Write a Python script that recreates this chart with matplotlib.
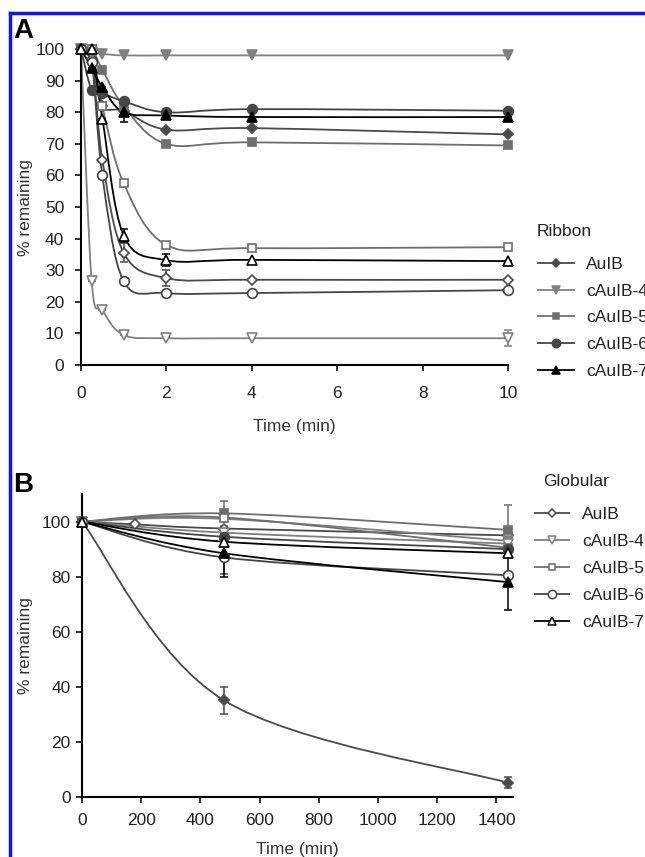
import numpy as np
import matplotlib.pyplot as plt
from matplotlib.path import Path
from matplotlib.patches import PathPatch
from matplotlib.lines import Line2D

plt.rcParams['font.family'] = ['Liberation Sans', 'DejaVu Sans']

names = ['AuIB', 'cAuIB-4', 'cAuIB-5', 'cAuIB-6', 'cAuIB-7']
markers = ['D', 'v', 's', 'o', '^']
msizes = [5, 7, 6, 7, 7]
colors = ['#4a4a4a', '#808080', '#6e6e6e', '#454545', '#000000']

# panel A - time in minutes
tA = [0, 0.25, 0.5, 1, 2, 4, 10]
ribA = {
    'AuIB':    [100, 96, 82, 80.5, 74.5, 75, 73],
    'cAuIB-4': [100, 99, 98.5, 98, 98, 98, 98],
    'cAuIB-5': [100, 100, 93.5, 82, 70, 70.5, 69.5],
    'cAuIB-6': [100, 87, 86, 83.5, 80, 81, 80.5],
    'cAuIB-7': [100, 94, 88, 80, 79, 78.5, 78.5],
}
ribA_err = {'cAuIB-7': [0, 0, 0, 3, 0, 0, 0]}
gloA = {
    'AuIB':    [100, 97, 65, 35.5, 27.5, 27, 27],
    'cAuIB-4': [100, 26.5, 17.5, 9.5, 8.5, 8.5, 8.5],
    'cAuIB-5': [100, 100, 82, 57.5, 38, 37, 37.3],
    'cAuIB-6': [100, 96, 60, 26.5, 22.8, 22.8, 23.7],
    'cAuIB-7': [100, 100, 78, 41, 33.2, 33.3, 32.9],
}
gloA_err = {'AuIB': [0, 0, 0, 3, 2.5, 0, 0],
            'cAuIB-4': [0, 0, 0, 0, 0, 0, 2.5],
            'cAuIB-7': [0, 0, 0, 2, 2, 0, 0]}

# panel B - time in minutes
tB = [0, 480, 1440]
tB_auib = [0, 180, 480, 1440]
ribB = {
    'AuIB':    [100, 35, 5],
    'cAuIB-4': [100, 101, 93],
    'cAuIB-5': [100, 103, 97],
    'cAuIB-6': [100, 94.5, 90],
    'cAuIB-7': [100, 88.5, 78],
}
ribB_err = {'AuIB': [0, 5, 2], 'cAuIB-5': [0, 4.5, 9], 'cAuIB-7': [0, 8.5, 10]}
gloB = {
    'AuIB':    [100, 99, 97.5, 95],
    'cAuIB-4': [100, 96, 92],
    'cAuIB-5': [100, 101.5, 90.5],
    'cAuIB-6': [100, 87, 80.5],
    'cAuIB-7': [100, 92.7, 88.5],
}
gloB_err = {'cAuIB-6': [0, 6, 0], 'cAuIB-4': [0, 0, 4]}

FS = 12.5


def smooth(ax, x, y, color, lw=1.3):
    # excel-like smoothed line: bezier through the data points
    p = np.column_stack([x, y]).astype(float)
    n = len(p)
    verts = [p[0]]
    codes = [Path.MOVETO]
    for i in range(n - 1):
        a = p[i - 1] if i > 0 else p[i]
        d = p[i + 2] if i + 2 < n else p[i + 1]
        c1 = p[i] + (p[i + 1] - a) / 6
        c2 = p[i + 1] - (d - p[i]) / 6
        verts += [c1, c2, p[i + 1]]
        codes += [Path.CURVE4] * 3
    ax.add_patch(PathPatch(Path(verts, codes), fill=False, ec=color, lw=lw,
                           zorder=2))


def series(ax, x, y, err, i, filled):
    c = colors[i]
    smooth(ax, x, y, c)
    if err is not None:
        ax.errorbar(x, y, yerr=err, fmt='none', ecolor=c, elinewidth=1.1,
                    capsize=3, capthick=1.1, zorder=3, clip_on=False)
    ax.plot(x, y, ls='none', marker=markers[i], ms=msizes[i], mec=c,
            mew=1.2, mfc=c if filled else 'white', zorder=4, clip_on=False)


def style(ax, xpad, ypad, labpad):
    for s in ['top', 'right']:
        ax.spines[s].set_visible(False)
    for s in ['left', 'bottom']:
        ax.spines[s].set_linewidth(1.5)
    ax.tick_params(direction='out', length=4, width=1.3, labelsize=FS,
                   colors='#222222')
    ax.tick_params(axis='x', pad=xpad)
    ax.tick_params(axis='y', pad=ypad)
    ax.set_ylabel('% remaining', fontsize=FS, color='#333333')
    ax.set_xlabel('Time (min)', fontsize=FS, color='#333333', labelpad=labpad)


fig = plt.figure(figsize=(6.45, 8.57), dpi=100)

axA = fig.add_axes([0.1256, 0.574, 0.662, 0.3687])
for i, nm in enumerate(names):
    series(axA, tA, ribA[nm], ribA_err.get(nm), i, True)
    series(axA, tA, gloA[nm], gloA_err.get(nm), i, False)
axA.set_xlim(0, 10)
axA.set_ylim(0, 100)
axA.set_xticks(range(0, 11, 2))
axA.set_yticks(range(0, 101, 10))
style(axA, 11, 8, 13)
axA.yaxis.set_label_coords(-0.112, 0.5)

axB = fig.add_axes([0.127, 0.0704, 0.668, 0.353])
for i, nm in enumerate(names):
    series(axB, tB, ribB[nm], ribB_err.get(nm), i, True)
    xb = tB_auib if nm == 'AuIB' else tB
    series(axB, xb, gloB[nm], gloB_err.get(nm), i, False)
axB.set_xlim(0, 1455)
axB.set_ylim(0, 110)
axB.set_xticks(range(0, 1401, 200))
axB.set_yticks(range(0, 101, 20))
style(axB, 8, 4, 10)
axB.yaxis.set_label_coords(-0.113, 0.5)

# legends (titles drawn separately, they sit a bit further from the rows)
def handles(filled):
    return [Line2D([], [], color=colors[i], lw=1.3, marker=markers[i],
                   ms=msizes[i] - 1, mec=colors[i], mew=1.1,
                   mfc=colors[i] if filled else 'white')
            for i in range(5)]

legA = fig.legend(handles(True), names, loc='upper left',
                  bbox_to_anchor=(0.834, 0.700), frameon=False, fontsize=FS,
                  handlelength=2.07, handletextpad=0.7, labelspacing=0.66,
                  borderpad=0, borderaxespad=0)
legB = fig.legend(handles(False), names, loc='upper left',
                  bbox_to_anchor=(0.829, 0.408), frameon=False, fontsize=FS,
                  handlelength=2.0, handletextpad=0.75, labelspacing=0.68,
                  borderpad=0, borderaxespad=0)
for leg in (legA, legB):
    for t in leg.get_texts():
        t.set_color('#222222')
fig.text(0.8326, 0.7293, 'Ribbon', fontsize=FS, va='center', color='#222222')
fig.text(0.842, 0.4387, 'Globular', fontsize=FS, va='center', color='#222222')

fig.text(0.02, 0.979, 'A', fontsize=20, fontweight='bold', va='top')
fig.text(0.02, 0.449, 'B', fontsize=20, fontweight='bold', va='top')

# blue frame of the cropped page
fig.add_artist(Line2D([0.016, 0.016], [0, 0.985], color='#1010ff', lw=2.5,
                      transform=fig.transFigure))
fig.add_artist(Line2D([0.016, 1], [0.985, 0.985], color='#1010ff', lw=2.5,
                      transform=fig.transFigure))

fig.savefig('out.png', dpi=100)
